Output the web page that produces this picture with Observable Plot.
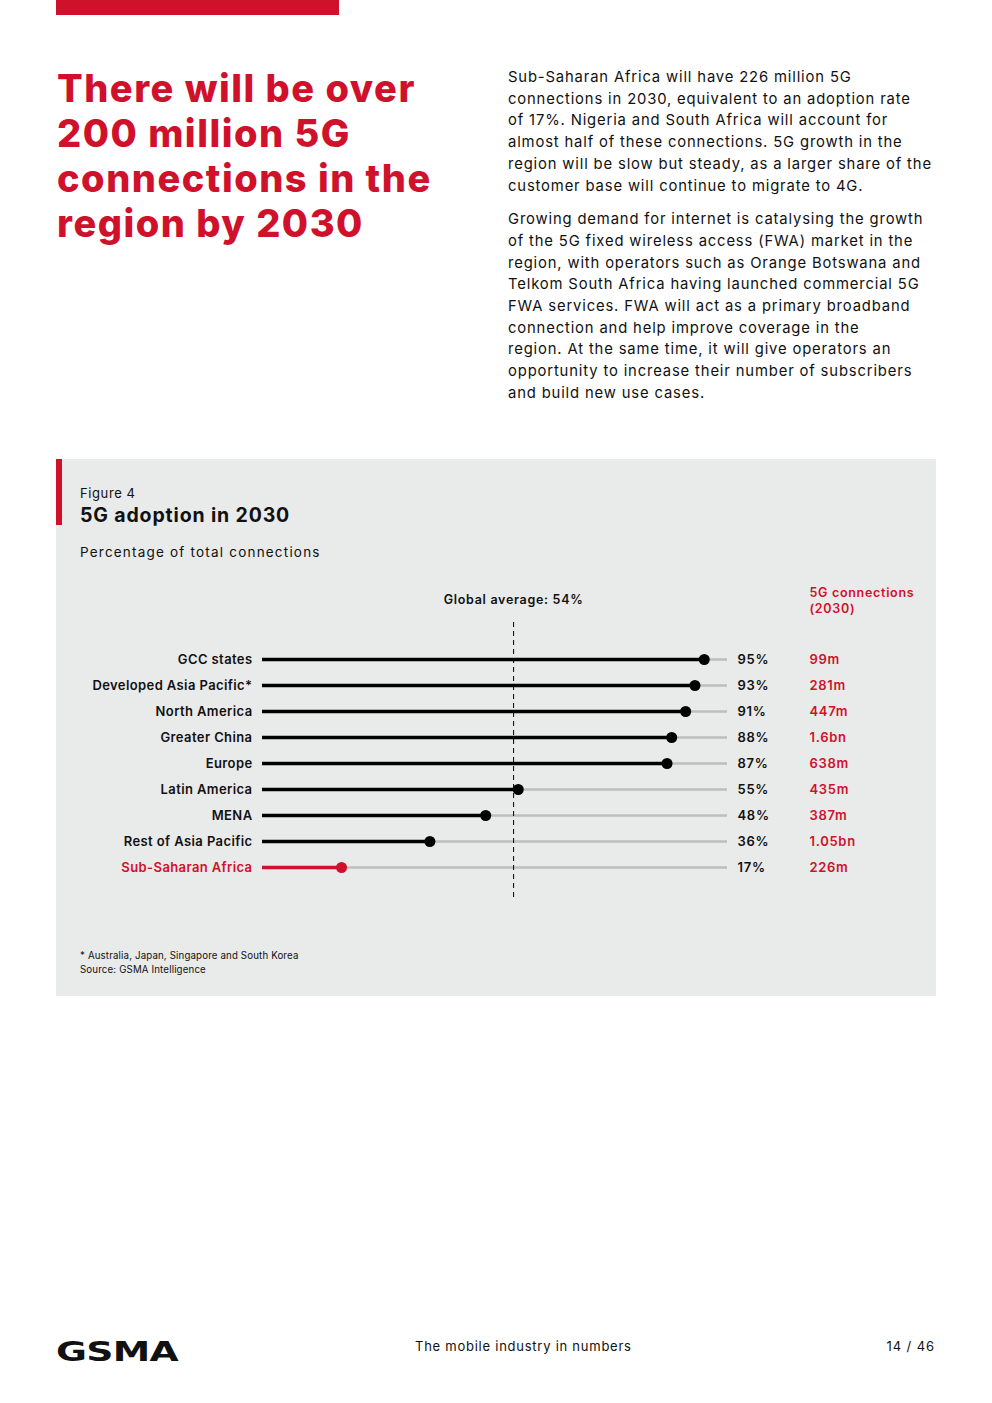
<!DOCTYPE html>
<html>
<head>
<meta charset="utf-8">
<script src="https://cdn.jsdelivr.net/npm/d3@7"></script>
<script src="https://cdn.jsdelivr.net/npm/@observablehq/plot@0.6"></script>
<style>
  html, body { margin: 0; padding: 0; background: #fff; }
  #page { position: relative; width: 992px; height: 1403px; overflow: hidden; font-family: "Inter", "Lato", sans-serif; color: #111; }
  .abs { position: absolute; }
  #topbar { left: 56px; top: 0; width: 283px; height: 15px; background: #d0112b; }
  #headline { left: 57px; top: 66px; width: 440px; font-size: 38px; line-height: 45px; font-weight: 800; color: #d0112b; letter-spacing: 1.5px; white-space: nowrap; }
  #body { left: 508px; top: 67px; width: 450px; font-size: 14.8px; line-height: 21.7px; letter-spacing: 0.85px; color: #111; white-space: nowrap; }
  #body p { margin: 0 0 12px 0; }
  #panel { left: 56px; top: 459px; width: 880px; height: 537px; background: #e9eaea; }
  #panelbar { left: 56px; top: 459px; width: 6px; height: 66px; background: #d0112b; }
  #fig { left: 80px; top: 485px; font-size: 13px; letter-spacing: 0.6px; }
  #figtitle { left: 80px; top: 503px; font-size: 19.5px; font-weight: 700; letter-spacing: 0.85px; }
  #subtitle { left: 80px; top: 544px; font-size: 13.5px; letter-spacing: 1.2px; }
  #chart { left: 56px; top: 579px; }
  #notes { left: 80px; top: 949px; font-size: 9.7px; line-height: 14px; letter-spacing: 0.15px; }
  #logo { left: 56px; top: 1337px; font-size: 26px; font-weight: 900; letter-spacing: -0.5px; font-family: "DejaVu Sans", sans-serif; transform: scaleX(1.45); transform-origin: left top; }
  #foottitle { left: 415px; top: 1338px; font-size: 13px; letter-spacing: 0.75px; }
  #pagenum { right: 57px; top: 1338px; font-size: 13px; letter-spacing: 0.9px; }
</style>
</head>
<body>
<div id="page">
  <div id="topbar" class="abs"></div>
  <div id="headline" class="abs">There will be over<br>200 million 5G<br>connections in the<br>region by 2030</div>
  <div id="body" class="abs">
    <p>Sub-Saharan Africa will have 226 million 5G<br>connections in 2030, equivalent to an adoption rate<br>of 17%. Nigeria and South Africa will account for<br>almost half of these connections. 5G growth in the<br>region will be slow but steady, as a larger share of the<br>customer base will continue to migrate to 4G.</p>
    <p>Growing demand for internet is catalysing the growth<br>of the 5G fixed wireless access (FWA) market in the<br>region, with operators such as Orange Botswana and<br>Telkom South Africa having launched commercial 5G<br>FWA services. FWA will act as a primary broadband<br>connection and help improve coverage in the<br>region. At the same time, it will give operators an<br>opportunity to increase their number of subscribers<br>and build new use cases.</p>
  </div>
  <div id="panel" class="abs"></div>
  <div id="panelbar" class="abs"></div>
  <div id="fig" class="abs">Figure 4</div>
  <div id="figtitle" class="abs">5G adoption in 2030</div>
  <div id="subtitle" class="abs">Percentage of total connections</div>
  <div id="chart" class="abs"></div>
  <div id="notes" class="abs">* Australia, Japan, Singapore and South Korea<br>Source: GSMA Intelligence</div>
  <div id="logo" class="abs">GSMA</div>
  <div id="foottitle" class="abs">The mobile industry in numbers</div>
  <div id="pagenum" class="abs">14 / 46</div>
</div>
<script>
const regions = ["GCC states", "Developed Asia Pacific*", "North America", "Greater China", "Europe", "Latin America", "MENA", "Rest of Asia Pacific", "Sub-Saharan Africa"];
const adoption = [95, 93, 91, 88, 87, 55, 48, 36, 17];
const connections = ["99m", "281m", "447m", "1.6bn", "638m", "435m", "387m", "1.05bn", "226m"];
const highlight = "Sub-Saharan Africa";
const globalAverage = 54;

const red = "#d0112b";
const data = regions.map((r, i) => ({region: r, value: adoption[i], conn: connections[i], hi: r === highlight}));
const font = "Inter, Lato, sans-serif";

const chart = Plot.plot({
  width: 880,
  height: 330,
  marginLeft: 206,
  marginRight: 209,
  marginTop: 79,
  marginBottom: 42,
  style: {background: "transparent", fontFamily: font, fontSize: "13px", color: "#111", overflow: "visible", letterSpacing: "0.7px"},
  x: {domain: [0, 100], axis: null},
  y: {type: "point", domain: regions, padding: 0, axis: null},
  marks: [
    Plot.ruleY(data, {y: "region", x1: 0, x2: 100, stroke: "#bdbebe", strokeWidth: 2.5}),
    Plot.ruleY(data, {y: "region", x1: 0, x2: "value", stroke: d => d.hi ? red : "#000", strokeWidth: 3.5}),
    Plot.ruleX([globalAverage], {stroke: "#000", strokeWidth: 1, strokeDasharray: "5,4", insetTop: -36, insetBottom: -34}),
    Plot.dot(data, {x: "value", y: "region", r: 5.5, fill: d => d.hi ? red : "#000", stroke: null}),
    Plot.text(data, {x: 0, y: "region", text: "region", dx: -10, textAnchor: "end", fill: d => d.hi ? red : "#111", fontWeight: 600, fontSize: 13}),
    Plot.text(data, {x: 100, y: "region", text: d => d.value + "%", dx: 10, textAnchor: "start", fill: "#111", fontWeight: 600, fontSize: 13}),
    Plot.text(data, {x: 100, y: "region", text: "conn", dx: 82, textAnchor: "start", fill: red, fontWeight: 600, fontSize: 13}),
    Plot.text([`Global average: ${globalAverage}%`], {x: globalAverage, frameAnchor: "top", dy: -63, text: d => d, fontWeight: 600, fontSize: 12.5, fill: "#111"}),
    Plot.text(["5G connections\n(2030)"], {x: 100, frameAnchor: "top", dx: 82, dy: -59, text: d => d, textAnchor: "start", lineAnchor: "middle", lineHeight: 1.3, fontWeight: 600, fontSize: 12.5, fill: red})
  ]
});
// tighter letter spacing for the region labels (first text mark)
const textGroups = chart.querySelectorAll('g[aria-label="text"]');
if (textGroups.length) textGroups[0].setAttribute("letter-spacing", "0.4px");
document.getElementById("chart").appendChild(chart);
</script>
</body>
</html>
